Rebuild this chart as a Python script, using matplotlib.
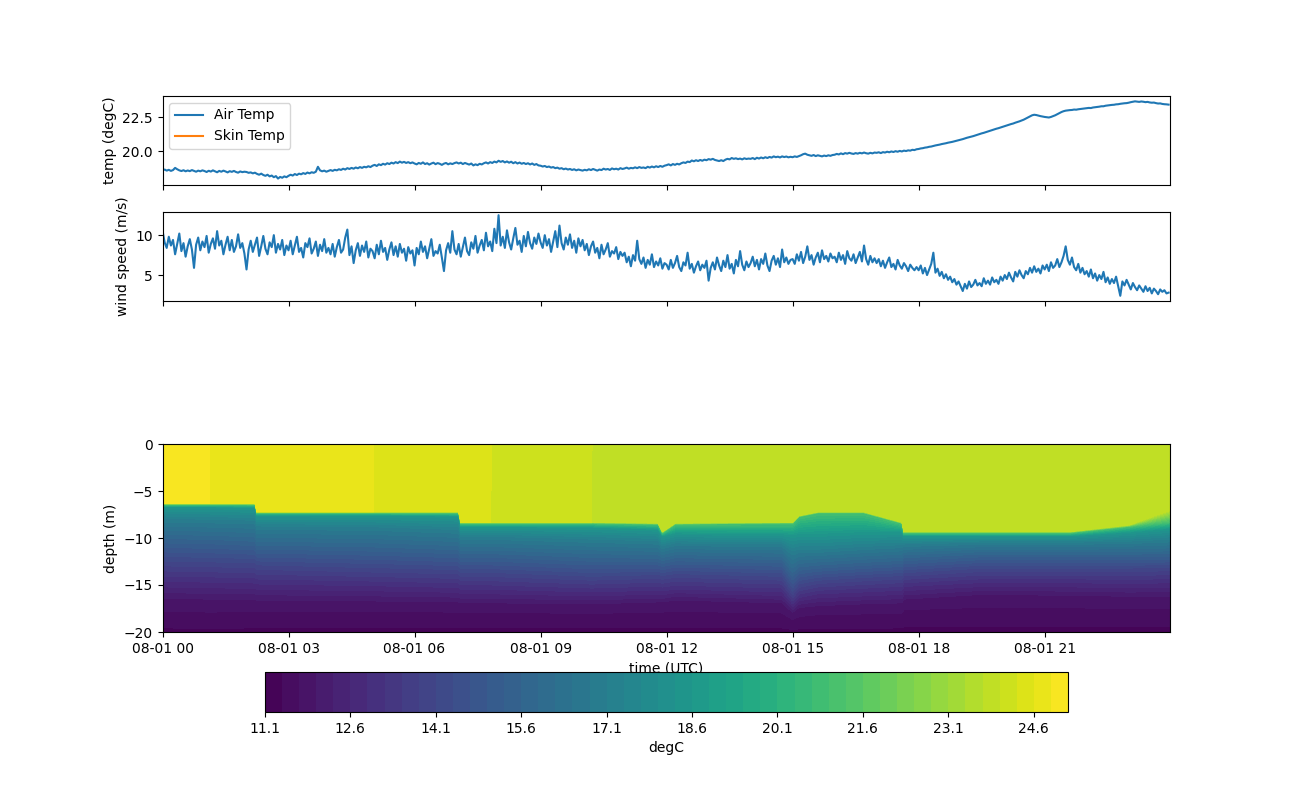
import numpy as np
import pandas as pd
import matplotlib
matplotlib.use('Agg')
import matplotlib.pyplot as plt
import matplotlib.dates as mdates

# ---- surface met record, 3 minute samples on 08-01 (two lines per hour)
air_temp = [
 18.62,18.68,18.60,18.66,18.58,18.64,18.80,18.70,18.62,18.57,
 18.63,18.55,18.61,18.56,18.64,18.58,18.52,18.60,18.55,18.62,
 18.57,18.50,18.59,18.53,18.62,18.55,18.48,18.58,18.52,18.60,
 18.54,18.47,18.56,18.51,18.58,18.50,18.45,18.54,18.49,18.52,
 18.50,18.44,18.47,18.40,18.45,18.36,18.30,18.38,18.28,18.22,
 18.30,18.18,18.24,18.12,18.20,18.02,18.14,18.08,18.18,18.12,
 18.22,18.30,18.24,18.35,18.28,18.38,18.33,18.42,18.36,18.46,
 18.40,18.48,18.44,18.52,18.88,18.62,18.55,18.60,18.52,18.58,
 18.64,18.58,18.66,18.62,18.70,18.65,18.74,18.68,18.78,18.72,
 18.80,18.74,18.83,18.77,18.86,18.80,18.88,18.84,18.92,18.86,
 18.96,19.02,18.94,19.06,19.00,19.10,19.04,19.14,19.08,19.18,
 19.12,19.22,19.15,19.26,19.18,19.24,19.16,19.22,19.14,19.20,
 19.12,19.06,19.16,19.10,19.20,19.08,19.14,19.04,19.12,19.18,
 19.07,19.15,19.10,19.02,19.11,19.16,19.06,19.13,19.08,19.15,
 19.20,19.12,19.18,19.08,19.16,19.10,19.04,19.12,18.98,19.06,
 19.00,19.10,19.05,19.14,19.20,19.12,19.22,19.16,19.26,19.20,
 19.32,19.24,19.30,19.20,19.27,19.18,19.25,19.14,19.22,19.12,
 19.19,19.10,19.16,19.08,19.14,19.05,19.12,19.02,19.08,18.98,
 18.96,18.90,18.94,18.86,18.90,18.82,18.86,18.78,18.82,18.74,
 18.78,18.70,18.75,18.68,18.72,18.65,18.70,18.62,18.68,18.64,
 18.60,18.66,18.62,18.70,18.64,18.72,18.66,18.60,18.68,18.64,
 18.74,18.68,18.72,18.65,18.76,18.70,18.74,18.68,18.78,18.72,
 18.76,18.82,18.74,18.80,18.77,18.84,18.78,18.86,18.80,18.83,
 18.78,18.88,18.82,18.90,18.84,18.92,18.86,18.94,18.88,18.96,
 19.00,19.06,18.98,19.08,19.02,19.10,19.05,19.14,19.20,19.16,
 19.26,19.22,19.34,19.28,19.36,19.30,19.38,19.32,19.40,19.36,
 19.44,19.40,19.46,19.38,19.34,19.30,19.36,19.30,19.40,19.46,
 19.42,19.52,19.46,19.50,19.44,19.48,19.42,19.50,19.45,19.48,
 19.46,19.52,19.44,19.54,19.48,19.56,19.50,19.58,19.52,19.60,
 19.55,19.64,19.58,19.62,19.56,19.64,19.59,19.63,19.57,19.61,
 19.58,19.64,19.60,19.66,19.72,19.80,19.84,19.76,19.72,19.68,
 19.74,19.66,19.72,19.68,19.64,19.70,19.66,19.72,19.68,19.74,
 19.76,19.82,19.78,19.86,19.80,19.88,19.84,19.90,19.85,19.82,
 19.88,19.84,19.90,19.86,19.92,19.87,19.84,19.90,19.86,19.92,
 19.90,19.94,19.88,19.95,19.92,19.98,19.94,20.00,19.96,20.02,
 19.98,20.04,20.00,20.06,20.03,20.08,20.06,20.12,20.10,20.16,
 20.18,20.22,20.24,20.28,20.30,20.34,20.36,20.40,20.44,20.47,
 20.50,20.54,20.57,20.60,20.64,20.67,20.70,20.74,20.78,20.82,
 20.86,20.90,20.95,21.00,21.04,21.08,21.12,21.17,21.22,21.27,
 21.32,21.36,21.41,21.46,21.51,21.56,21.61,21.66,21.70,21.75,
 21.80,21.85,21.90,21.95,22.00,22.04,22.10,22.15,22.20,22.26,
 22.32,22.40,22.48,22.56,22.64,22.68,22.66,22.62,22.58,22.55,
 22.52,22.50,22.48,22.52,22.58,22.64,22.72,22.80,22.88,22.94,
 22.98,23.00,23.02,23.03,23.06,23.05,23.08,23.10,23.12,23.14,
 23.16,23.18,23.17,23.21,23.23,23.25,23.27,23.30,23.30,23.34,
 23.36,23.38,23.40,23.41,23.44,23.45,23.48,23.50,23.52,23.53,
 23.56,23.60,23.63,23.66,23.64,23.62,23.65,23.63,23.60,23.62,
 23.58,23.56,23.57,23.53,23.50,23.51,23.47,23.45,23.44,23.42]
skin_temp = []   # skin sensor gave nothing that day
wind_speed = [
 10.6,9.1,8.4,9.8,8.7,9.4,7.6,8.9,10.2,8.0,
 9.0,7.3,8.6,9.5,8.2,5.9,8.8,9.7,8.1,9.2,
 8.5,9.9,7.8,8.9,9.6,8.3,10.5,8.7,9.3,7.6,
 8.8,9.8,8.1,9.4,7.9,8.6,10.1,8.4,9.0,7.7,
 5.7,8.2,9.3,7.9,8.8,9.7,7.4,8.6,9.9,8.3,
 7.6,9.1,8.5,10.0,7.8,8.9,8.2,9.4,7.5,8.7,
 8.1,9.3,7.6,8.7,9.8,7.9,8.4,7.2,9.0,8.5,
 9.6,7.7,8.3,9.2,7.4,8.8,8.0,9.5,7.8,8.4,
 7.6,8.9,7.3,8.5,9.4,7.8,8.2,9.7,10.7,7.5,
 8.6,6.5,8.1,9.0,7.4,8.7,7.9,9.2,7.2,8.3,
 8.0,7.1,8.8,7.6,9.3,7.9,8.4,6.9,8.2,9.1,
 7.5,8.6,7.3,8.9,7.8,8.3,6.8,8.5,7.7,8.1,
 6.2,8.4,7.6,9.2,7.9,8.6,7.1,8.3,9.5,7.4,
 8.0,7.7,8.8,7.2,5.5,8.1,9.0,7.8,10.5,8.2,
 7.6,8.9,7.3,8.5,9.7,8.0,7.5,9.1,8.3,9.9,
 7.8,8.7,9.4,8.1,10.3,8.6,9.2,8.0,10.8,9.0,
 12.5,8.7,9.8,8.4,10.6,9.1,8.2,9.6,10.9,8.8,
 9.3,7.9,9.9,8.6,10.4,9.0,8.3,9.7,8.9,10.2,
 9.1,8.4,10.0,8.7,9.5,7.9,9.2,10.5,8.5,11.2,
 9.0,8.2,9.7,8.8,10.1,8.4,9.3,7.8,9.6,8.6,
 9.4,8.1,8.9,7.5,8.6,9.2,7.8,8.4,7.1,8.8,
 7.6,8.2,9.0,7.3,8.0,7.7,8.5,7.0,7.9,7.4,
 7.8,6.6,7.3,6.1,7.5,6.8,9.3,7.0,6.4,7.2,
 5.9,6.9,6.3,7.6,6.0,6.7,6.2,7.1,5.8,6.5,
 6.3,5.7,6.9,5.9,6.5,7.4,6.0,5.5,6.6,6.2,
 7.8,5.8,6.4,5.3,6.1,6.7,5.6,6.3,5.9,6.8,
 4.3,5.9,6.6,5.7,7.2,6.2,5.5,6.8,6.0,7.5,
 5.8,6.4,5.2,6.9,6.1,8.0,6.3,5.6,6.7,6.0,
 6.5,7.3,6.1,6.9,5.7,7.0,6.4,7.7,6.2,5.5,
 6.8,7.4,6.3,7.1,6.0,8.2,6.6,7.2,6.4,6.9,
 7.0,6.4,7.6,6.8,7.9,6.5,7.3,8.6,6.9,7.5,
 6.3,7.2,7.8,6.6,8.1,7.0,7.4,6.7,7.7,7.1,
 7.3,6.6,7.8,6.9,7.5,6.4,8.0,7.1,6.8,7.6,
 6.5,7.2,7.9,6.7,8.7,7.0,6.3,7.4,6.6,7.1,
 6.5,7.0,6.1,6.8,5.9,6.6,7.2,6.0,6.4,5.7,
 6.9,6.2,5.8,6.5,6.1,5.5,6.3,5.9,5.6,6.0,
 5.6,6.2,5.2,5.9,5.0,5.7,6.4,7.8,5.3,5.8,
 4.9,5.4,4.6,5.1,4.4,4.8,4.1,4.5,3.8,4.2,
 3.6,3.0,3.9,3.3,4.2,3.5,3.8,4.4,3.7,4.0,
 3.6,4.6,3.9,4.3,3.8,4.7,4.1,4.4,3.9,4.8,
 4.3,5.0,4.5,5.3,4.7,4.2,5.4,4.8,5.6,5.0,
 4.6,5.5,5.1,5.9,5.3,6.1,5.4,5.8,5.2,6.2,
 5.7,6.3,5.5,6.6,5.9,6.2,7.0,6.0,6.6,7.4,
 8.6,6.9,6.3,7.2,6.0,5.6,6.4,5.3,5.9,5.1,
 5.5,4.8,5.7,4.6,5.2,4.3,5.0,4.5,5.4,4.1,
 4.7,3.9,4.5,4.0,4.8,3.6,2.4,4.2,3.7,4.4,
 3.8,3.2,4.0,3.5,3.1,3.7,3.3,2.9,3.6,3.0,
 3.4,2.7,3.3,3.0,2.6,3.2,2.9,3.1,2.7,2.8]
t0 = pd.Timestamp('2019-08-01 00:00')
temp_time = pd.date_range(t0, periods=len(air_temp), freq='3min')
wind_time = pd.date_range(t0, periods=len(wind_speed), freq='3min')

# ---- mooring profile: mixed layer temp and isotherm depths (m) at knots
knot_hours = [0.0,1.1,1.15,2.2,2.25,5.0,5.05,7.05,7.1,7.8,7.85,10.2,10.25,11.8,11.9,
              12.2,14.75,15.0,15.15,15.6,16.7,17.6,17.65,19.5,21.6,23.0,23.99]
sst = [25.05,25.05,24.75,24.75,24.75,24.75,24.45,24.45,24.45,24.45,24.15,24.15,23.85,23.85,23.85,
       23.85,23.85,23.85,23.85,23.85,23.85,23.85,23.85,23.85,23.85,23.85,23.85]
mld = [6.3,6.3,6.3,6.3,7.2,7.2,7.2,7.2,8.3,8.3,8.3,8.3,8.3,8.4,9.3,
       8.4,8.3,8.3,7.6,7.2,7.2,8.3,9.3,9.3,9.3,8.6,7.0]
z21 = [6.45,6.45,6.45,6.45,7.35,7.35,7.35,7.35,8.45,8.45,8.45,8.45,8.45,8.55,9.45,
       8.55,8.45,8.45,7.75,7.35,7.35,8.45,9.45,9.45,9.45,8.8,8.3]
z185 = [6.7,6.7,6.7,6.8,7.6,7.6,7.6,7.7,8.8,8.8,8.8,8.9,8.9,9.1,9.8,
        9.5,9.6,9.7,9.6,9.6,9.4,9.4,9.8,9.8,9.8,9.4,9.0]
z17 = [8.0,8.1,8.1,8.2,8.8,8.9,8.9,9.2,9.9,9.9,9.9,10.2,10.2,10.4,10.9,
       10.6,10.7,11.5,11.3,11.3,11.0,10.8,10.7,10.5,10.5,10.4,10.2]
z155 = [10.2,10.3,10.3,10.5,10.9,11.1,11.1,11.4,11.8,11.8,11.8,12.2,12.2,12.3,12.5,
        12.2,12.4,13.8,13.2,13.0,12.7,12.5,12.2,11.8,11.8,11.8,11.8]
z14 = [12.6,12.7,12.7,12.8,13.0,13.3,13.3,13.5,13.8,13.8,13.8,14.2,14.2,14.0,14.1,
       13.9,14.2,15.8,15.0,14.6,14.3,14.1,13.8,13.3,13.3,13.3,13.2]
z13 = [14.4,14.5,14.5,14.6,14.7,14.9,14.9,15.1,15.3,15.3,15.3,15.6,15.6,15.4,15.5,
       15.3,15.6,16.9,16.2,15.8,15.6,15.4,15.0,14.6,14.6,14.7,14.6]
z12 = [16.4,16.5,16.5,16.5,16.6,16.7,16.7,16.8,16.9,16.9,16.9,17.0,17.0,16.8,16.8,
       16.6,16.9,17.9,17.4,17.2,17.0,16.9,16.5,16.0,16.1,16.2,16.2]
z115 = [18.7,18.8,18.8,18.7,18.7,18.6,18.6,18.6,18.6,18.6,18.6,18.7,18.7,18.6,18.6,
        18.6,18.7,19.2,19.0,18.8,18.8,18.7,18.4,18.3,18.3,18.4,18.4]
bottom_depth = 20.0
bottom_temp = 11.35

# build the curvilinear (time, depth) grid: one row per isotherm
n = len(knot_hours)
ktime = mdates.date2num(t0 + pd.to_timedelta(knot_hours, unit='h'))
sst = np.array(sst)
depth_rows = [np.zeros(n), mld, z21, z185, z17, z155, z14, z13, z12, z115,
              np.full(n, bottom_depth)]
temp_rows = [sst, sst - 0.05, np.full(n, 21.0), np.full(n, 18.5), np.full(n, 17.0),
             np.full(n, 15.5), np.full(n, 14.0), np.full(n, 13.0), np.full(n, 12.0),
             np.full(n, 11.5), np.full(n, bottom_temp)]
X = np.tile(ktime, (len(depth_rows), 1))
Y = -np.array(depth_rows, dtype=float)
Z = np.array(temp_rows, dtype=float)
levels = np.round(np.arange(11.1, 25.25, 0.3), 1)

fig = plt.figure(figsize=(13, 8), dpi=100)
ax1 = fig.add_axes([0.125, 0.76875, 0.775, 0.11125])
ax2 = fig.add_axes([0.125, 0.62375, 0.775, 0.11125], sharex=ax1)
ax3 = fig.add_axes([0.125, 0.21, 0.775, 0.235], sharex=ax1)
cax = fig.add_axes([0.2038, 0.11, 0.6177, 0.05])

ax1.plot(temp_time, air_temp, label='Air Temp')
ax1.plot(temp_time[:len(skin_temp)], skin_temp, label='Skin Temp')
ax1.set_ylabel('temp (degC)')
ax1.set_ylim(17.55, 24.05)
ax1.set_yticks([20.0, 22.5])
ax1.legend(loc='upper left')

ax2.plot(wind_time, wind_speed)
ax2.set_ylabel('wind speed (m/s)')
ax2.set_ylim(1.75, 12.9)
ax2.set_yticks([5, 10])

cf = ax3.contourf(X, Y, Z, levels=levels, cmap='viridis')
ax3.set_ylim(-20, 0)
ax3.set_ylabel('depth (m)')
ax3.set_xlabel('time (UTC)')
ax3.set_xlim(t0, t0 + pd.Timedelta(hours=23, minutes=59))
ax3.xaxis.set_major_locator(mdates.HourLocator(byhour=range(0, 24, 3)))
ax3.xaxis.set_major_formatter(mdates.DateFormatter('%m-%d %H'))
for a in (ax1, ax2):
    a.tick_params(labelbottom=False)

cb = fig.colorbar(cf, cax=cax, orientation='horizontal', ticks=levels[::5], format='%.1f')
cb.set_label('degC')

fig.savefig('out.png', dpi=100)
